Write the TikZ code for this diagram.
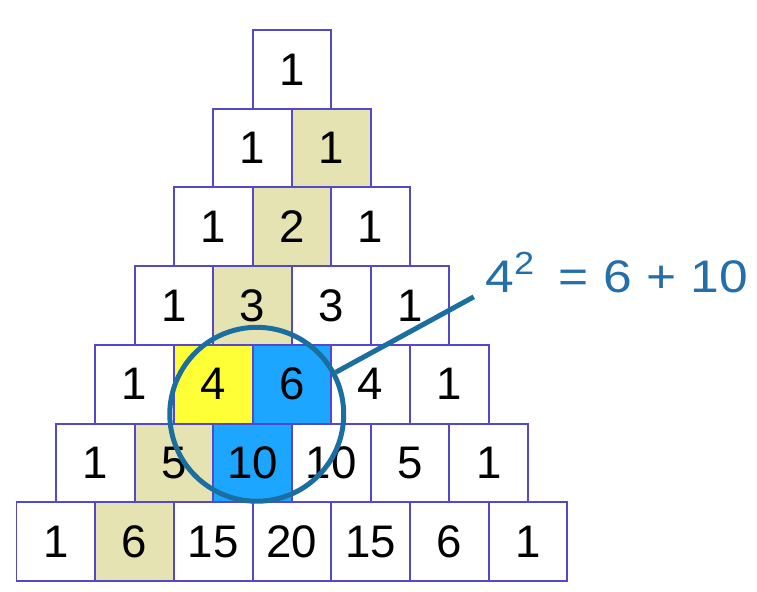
\documentclass[tikz,border=0pt]{standalone}
\usepackage{fontspec}
\setmainfont{Liberation Sans}
\usepackage{tikz}

\definecolor{cellline}{RGB}{84,72,204}
\definecolor{khaki}{RGB}{230,227,178}
\definecolor{hiyellow}{RGB}{255,255,56}
\definecolor{hiblue}{RGB}{28,166,255}
\definecolor{ringblue}{RGB}{26,110,160}
\definecolor{eqblue}{RGB}{36,110,170}

\begin{document}
\begin{tikzpicture}[font=\fontsize{16.5}{19}\selectfont]
\tikzset{cell/.style = {shape=rectangle,draw=cellline,line width=0.7pt,fill=white,minimum size=1cm,inner sep=0pt},
         diag/.style = {fill=khaki},
         hl11/.style = {diag}, hl21/.style = {diag}, hl31/.style = {diag},
         hl51/.style = {diag}, hl61/.style = {diag},
         hl41/.style = {fill=hiyellow},
         hl42/.style = {fill=hiblue}, hl52/.style = {fill=hiblue},
         ring/.style = {shape=circle,draw=ringblue,line width=1.8pt,minimum size=2.21cm,inner sep=0pt}}
\useasboundingbox (0,0) rectangle (9.619,7.522);
% cells
\foreach \r/\row in {0/{1},1/{1,1},2/{1,2,1},3/{1,3,3,1},4/{1,4,6,4,1},5/{1,5,10,10,5,1},6/{1,6,15,20,15,6,1}} {
    \foreach \v [count=\k from 0] in \row {
        \node[cell,hl\r\k/.try] (c\r-\k) at (3.71-\r/2+\k,6.64-\r) {\v};
    }
}
% ring and label
\node[ring] (ring) at ([shift={(0.04,0.13)}]c4-1.south east) {};
\node[anchor=base west,inner sep=0pt,text=eqblue,xscale=1.13,transform shape] (eq) at (6.16,3.81) {4\textsuperscript{2}\, = 6 + 10};
\coordinate (tip) at ([shift={(-0.14,-0.06)}]eq.base west);
\draw[ringblue,line width=1.8pt] (ring.28) -- (tip);
\end{tikzpicture}
\end{document}
